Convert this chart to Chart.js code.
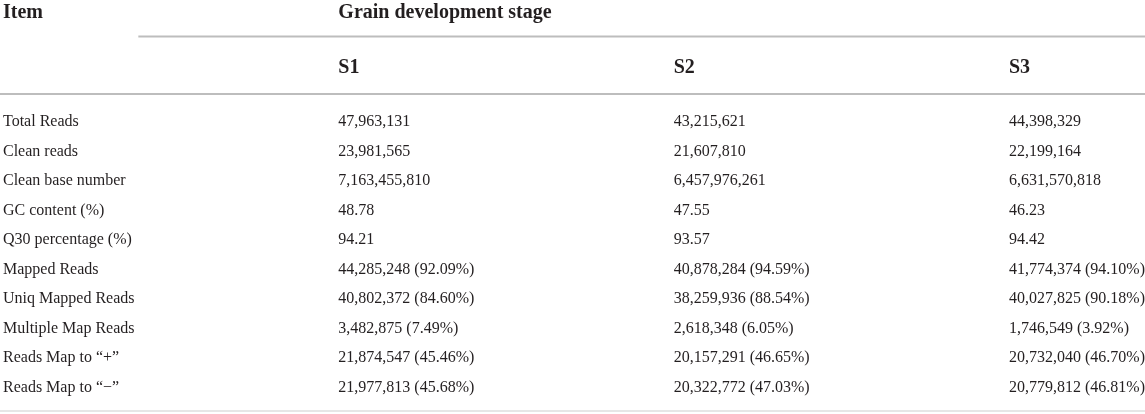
<!DOCTYPE html>
<html>
<head>
<meta charset="utf-8">
<script src="https://cdn.jsdelivr.net/npm/chart.js@4.4.1/dist/chart.umd.min.js"></script>
<style>
  html, body { margin: 0; padding: 0; background: #ffffff; }
  #wrap { position: relative; width: 1145px; height: 414px; }
</style>
</head>
<body>
<div id="wrap"><canvas id="c"></canvas></div>
<script>
// ---- data ----
const headerItem = 'Item';
const headerGroup = 'Grain development stage';
const stages = ['S1', 'S2', 'S3'];
const items = [
  'Total Reads',
  'Clean reads',
  'Clean base number',
  'GC content (%)',
  'Q30 percentage (%)',
  'Mapped Reads',
  'Uniq Mapped Reads',
  'Multiple Map Reads',
  'Reads Map to \u201c+\u201d',
  'Reads Map to \u201c\u2212\u201d'
];
const s1Values = ['47,963,131', '23,981,565', '7,163,455,810', '48.78', '94.21',
  '44,285,248 (92.09%)', '40,802,372 (84.60%)', '3,482,875 (7.49%)',
  '21,874,547 (45.46%)', '21,977,813 (45.68%)'];
const s2Values = ['43,215,621', '21,607,810', '6,457,976,261', '47.55', '93.57',
  '40,878,284 (94.59%)', '38,259,936 (88.54%)', '2,618,348 (6.05%)',
  '20,157,291 (46.65%)', '20,322,772 (47.03%)'];
const s3Values = ['44,398,329', '22,199,164', '6,631,570,818', '46.23', '94.42',
  '41,774,374 (94.10%)', '40,027,825 (90.18%)', '1,746,549 (3.92%)',
  '20,732,040 (46.70%)', '20,779,812 (46.81%)'];

// ---- build columns (col 0 = item names, 1..3 = stages) ----
const columns = [items, s1Values, s2Values, s3Values];
const datasets = columns.map((col, ci) => ({
  label: ci === 0 ? headerItem : stages[ci - 1],
  data: col.map((txt, ri) => ({ x: ci, y: ri, txt })),
  pointRadius: 0,
  pointHoverRadius: 0,
  showLine: false
}));

const FONT = '"Liberation Serif", "Times New Roman", serif';
const TEXT = '#231f20';
const RULE = '#bdbdbd';

const tablePlugin = {
  id: 'tableText',
  afterDatasetsDraw(chart) {
    const ctx = chart.ctx;
    const area = chart.chartArea;
    const xs = chart.scales.x;
    ctx.save();
    // rules
    ctx.lineWidth = 2;
    ctx.strokeStyle = RULE;
    ctx.beginPath();
    ctx.moveTo(xs.getPixelForValue(1) - 200, area.top - 85);
    ctx.lineTo(chart.width, area.top - 85);
    ctx.stroke();
    ctx.beginPath();
    ctx.moveTo(0, area.top - 27.5);
    ctx.lineTo(chart.width, area.top - 27.5);
    ctx.stroke();
    ctx.strokeStyle = '#e6e6e6';
    ctx.beginPath();
    ctx.moveTo(0, area.bottom + 24);
    ctx.lineTo(chart.width, area.bottom + 24);
    ctx.stroke();

    ctx.fillStyle = TEXT;
    ctx.textAlign = 'left';
    ctx.textBaseline = 'middle';
    // header
    ctx.font = 'bold 20px ' + FONT;
    ctx.fillText(headerItem, xs.getPixelForValue(0), area.top - 109);
    ctx.fillText(headerGroup, xs.getPixelForValue(1), area.top - 109);
    stages.forEach((s, i) => {
      ctx.fillText(s, xs.getPixelForValue(i + 1), area.top - 54);
    });
    // body cells
    ctx.font = '16px ' + FONT;
    chart.data.datasets.forEach((ds, di) => {
      const meta = chart.getDatasetMeta(di);
      meta.data.forEach((pt, j) => {
        ctx.fillText(ds.data[j].txt, pt.x, pt.y + 0.5);
      });
    });
    ctx.restore();
  }
};

new Chart(document.getElementById('c'), {
  type: 'scatter',
  data: { datasets },
  options: {
    responsive: true,
    maintainAspectRatio: false,
    animation: false,
    events: [],
    layout: { padding: { left: 3, right: 136, top: 121.5, bottom: 27 } },
    plugins: { legend: { display: false }, tooltip: { enabled: false } },
    scales: {
      x: { type: 'linear', min: 0, max: 3, display: false },
      y: { type: 'linear', min: 0, max: items.length - 1, reverse: true, display: false }
    }
  },
  plugins: [tablePlugin]
});
</script>
</body>
</html>
